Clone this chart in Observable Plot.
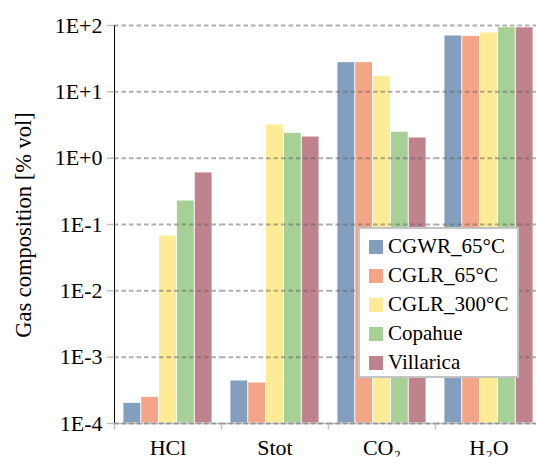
<!DOCTYPE html>
<html>
<head>
<meta charset="utf-8">
<script src="https://cdn.jsdelivr.net/npm/d3@7"></script>
<script src="https://cdn.jsdelivr.net/npm/@observablehq/plot@0.6"></script>
<style>
html, body { margin: 0; padding: 0; background: #fff; overflow: hidden; }
#wrap { position: relative; width: 536px; height: 457px; font-family: "Liberation Serif", "Times New Roman", serif; color: #000; }
#wrap svg text { font-family: "Liberation Serif", "Times New Roman", serif !important; font-size: 22px !important; fill: #000; }
#wrap svg g[aria-label*="axis"] line,
#wrap svg g[aria-label*="axis"] path { stroke: #bfbfbf; stroke-width: 1.5px; }
#ylabel { position: absolute; left: 24px; top: 225px; transform: translate(-50%, -50%) rotate(-90deg); white-space: nowrap; font-size: 22.5px; font-family: "Liberation Serif", serif; }
#legend { position: absolute; left: 358px; top: 227px; width: 157px; height: 147px; border: 2px solid #c4c4c4; background: #fff; box-sizing: content-box; padding: 0; }
.lgrow { position: relative; height: 29px; display: flex; align-items: center; padding-left: 9px; font-family: "Liberation Serif", "Times New Roman", serif; font-size: 21px; line-height: 29px; white-space: nowrap; }
.lgrow .sw { display: inline-block; width: 14px; height: 14px; margin-right: 5px; flex: none; }
</style>
</head>
<body>
<div id="wrap"></div>
<script>
const gases = ["HCl", "Stot", "CO2", "H2O"];
const gasLabels = ["HCl", "Stot", "CO₂", "H₂O"];
const series = ["CGWR_65°C", "CGLR_65°C", "CGLR_300°C", "Copahue", "Villarica"];
const colors = ["#849fbe", "#f4a487", "#fdeb95", "#a6d095", "#bf838e"];
const CGWR_65 = [2.05e-4, 4.45e-4, 28, 70.7];
const CGLR_65 = [2.52e-4, 4.15e-4, 28, 69.8];
const CGLR_300 = [0.068, 3.22, 17.2, 78.4];
const Copahue = [0.23, 2.41, 2.5, 94.4];
const Villarica = [0.61, 2.12, 2.05, 94];
const yTicks = [1e-4, 1e-3, 1e-2, 1e-1, 1, 10, 100];
const yTickLabels = ["1E-4", "1E-3", "1E-2", "1E-1", "1E+0", "1E+1", "1E+2"];
const baseValue = 1e-4;

const seriesValues = [CGWR_65, CGLR_65, CGLR_300, Copahue, Villarica];
const rows = [];
gases.forEach((g, gi) => series.forEach((s, si) => rows.push({gas: g, series: s, value: seriesValues[si][gi]})));

const sepSymbol = {draw(ctx) { ctx.moveTo(0, 0); ctx.lineTo(0, 6); }};

const chart = Plot.plot({
  width: 536,
  height: 457,
  marginTop: 25,
  marginBottom: 34,
  marginLeft: 112,
  marginRight: -7,
  style: {fontFamily: "'Liberation Serif', 'Times New Roman', serif", fontSize: "22px", color: "#000", background: "transparent", overflow: "visible"},
  fx: {domain: gases, padding: 0, label: null, tickSize: 0, tickPadding: 16, tickFormat: d => gasLabels[gases.indexOf(d)]},
  x: {domain: series, paddingInner: 0, paddingOuter: 0.5, round: false, axis: null},
  y: {type: "log", domain: [1e-4, 100], ticks: yTicks, tickFormat: d => yTickLabels[Math.round(Math.log10(d)) + 4], tickSize: 7, tickPadding: 5, label: null, line: true},
  color: {domain: series, range: colors},
  marks: [
    Plot.barY(rows, {fx: "gas", x: "series", y1: baseValue, y2: "value", fill: "series", inset: 0.5}),
    Plot.ruleY(gases.flatMap(g => yTicks.slice(1).map(t => ({gas: g, t}))), {fx: "gas", y: "t", stroke: "#606060", strokeOpacity: 0.5, strokeWidth: 2, strokeDasharray: "4.5,3"}),
    Plot.ruleY(gases.map(g => ({gas: g, t: baseValue})), {fx: "gas", y: "t", stroke: "#bfbfbf", strokeWidth: 1.5}),
    Plot.ruleY(gases.map(g => ({gas: g, t: baseValue})), {fx: "gas", y: "t", stroke: "#606060", strokeOpacity: 0.45, strokeWidth: 2, strokeDasharray: "4.5,3"}),
    Plot.dot(gases.map(g => ({gas: g})), {fx: "gas", frameAnchor: "bottom-left", symbol: sepSymbol, stroke: "#bfbfbf", strokeWidth: 1.5, fill: "none"})
  ]
});

const wrap = document.getElementById("wrap");
wrap.appendChild(chart);

const yl = document.createElement("div");
yl.id = "ylabel";
yl.textContent = "Gas composition [% vol]";
wrap.appendChild(yl);

const colorScale = chart.scale("color");
const lg = document.createElement("div");
lg.id = "legend";
series.forEach(s => {
  const row = document.createElement("div");
  row.className = "lgrow";
  const sw = document.createElement("span");
  sw.className = "sw";
  sw.style.background = colorScale.apply(s);
  row.appendChild(sw);
  row.appendChild(document.createTextNode(s));
  lg.appendChild(row);
});
lg.firstChild.style.marginTop = "3px";
wrap.appendChild(lg);
</script>
</body>
</html>
